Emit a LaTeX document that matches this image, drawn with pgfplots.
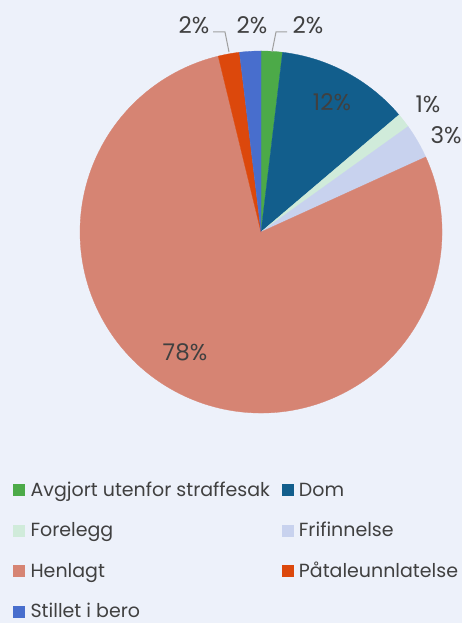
\documentclass[border=0pt]{standalone}
\usepackage{pgfplots}
\usepackage{pgfplotstable}
\pgfplotsset{compat=1.18}
\usepackage{fontspec}
\setmainfont{Poppins}

\definecolor{bgc}{RGB}{237,241,250}
\definecolor{txt}{RGB}{64,64,64}
\definecolor{lead}{RGB}{160,160,160}
\definecolor{cAvg}{RGB}{76,170,72}
\definecolor{cDom}{RGB}{18,94,140}
\definecolor{cFor}{RGB}{208,235,218}
\definecolor{cFri}{RGB}{200,210,238}
\definecolor{cHen}{RGB}{214,132,115}
\definecolor{cPaa}{RGB}{220,72,12}
\definecolor{cSti}{RGB}{72,110,205}

% share of cases, clockwise from 12 o'clock
\pgfplotstableread{
name value col
Avgjort 1.9 cAvg
Dom 11.9 cDom
Forelegg 1.3 cFor
Frifinnelse 3.1 cFri
Henlagt 78.0 cHen
Paataleunnlatelse 1.9 cPaa
Stillet 1.9 cSti
}\pietbl

\begin{document}
\begin{tikzpicture}
\begin{axis}[
    width=462bp, height=623bp,
    scale only axis,
    xmin=0, xmax=462, ymin=0, ymax=623,
    axis lines=none,
    clip=false,
    legend columns=2,
    legend cell align=left,
    legend style={at={(axis cs:10,143)}, anchor=north west, draw=none, fill=none,
        font=\fontsize{19bp}{22bp}\selectfont\color{txt},
        row sep=24bp, column sep=0bp,
        nodes={inner xsep=3bp, inner ysep=0bp},
        /tikz/every odd column/.append style={column sep=3bp},
        /tikz/every even column/.append style={column sep=8.5bp}},
]
\fill[bgc] (axis cs:0,0) rectangle (axis cs:462,623);

\def\cum{0}
\pgfplotsforeachungrouped \i in {0,...,6}{
    \pgfplotstablegetelem{\i}{value}\of\pietbl \let\v\pgfplotsretval
    \pgfplotstablegetelem{\i}{col}\of\pietbl \let\c\pgfplotsretval
    \pgfmathsetmacro\aS{90-3.6*\cum}
    \pgfmathsetmacro\aE{90-3.6*(\cum+\v)}
    \pgfmathsetmacro\cum{\cum+\v}
    \edef\temp{\noexpand\filldraw[fill=\c, draw=\c, line width=0.3bp] (axis cs:261,391) -- ++(\aS:181bp)
        arc[start angle=\aS, end angle=\aE, radius=181bp] -- cycle;}
    \temp
}

% leader lines
\draw[lead, line width=1bp] (axis cs:213,591) -- (axis cs:225,591) -- (axis cs:229,571);
\draw[lead, line width=1bp] (axis cs:287,591) -- (axis cs:276,591) -- (axis cs:272,571);

\begin{scope}[every node/.style={font=\fontsize{23bp}{26bp}\selectfont, text=txt, inner sep=0pt}]
\node at (axis cs:332,521) {12\%};
\node at (axis cs:185,271) {78\%};
\node at (axis cs:428,519) {1\%};
\node at (axis cs:446,488) {3\%};
\node at (axis cs:194,598) {2\%};
\node at (axis cs:252,598) {2\%};
\node at (axis cs:308,598) {2\%};
\end{scope}

\addlegendimage{legend image code/.code={\fill[cAvg] (0bp,-5.5bp) rectangle (11bp,5.5bp);}}
\addlegendentry{Avgjort utenfor straffesak}
\addlegendimage{legend image code/.code={\fill[cDom] (0bp,-5.5bp) rectangle (11bp,5.5bp);}}
\addlegendentry{Dom}
\addlegendimage{legend image code/.code={\fill[cFor] (0bp,-5.5bp) rectangle (11bp,5.5bp);}}
\addlegendentry{Forelegg}
\addlegendimage{legend image code/.code={\fill[cFri] (0bp,-5.5bp) rectangle (11bp,5.5bp);}}
\addlegendentry{Frifinnelse}
\addlegendimage{legend image code/.code={\fill[cHen] (0bp,-5.5bp) rectangle (11bp,5.5bp);}}
\addlegendentry{Henlagt}
\addlegendimage{legend image code/.code={\fill[cPaa] (0bp,-5.5bp) rectangle (11bp,5.5bp);}}
\addlegendentry{Påtaleunnlatelse}
\addlegendimage{legend image code/.code={\fill[cSti] (0bp,-5.5bp) rectangle (11bp,5.5bp);}}
\addlegendentry{Stillet i bero}
\end{axis}
\pgfresetboundingbox
\path (0,0) rectangle (462bp,623bp);
\end{tikzpicture}
\end{document}
